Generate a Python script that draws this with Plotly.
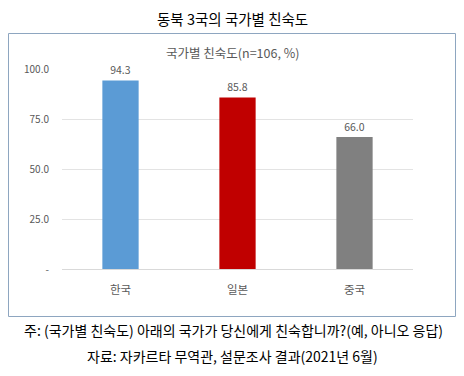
import plotly.graph_objects as go

categories = ["한국", "일본", "중국"]
values = [94.3, 85.8, 66.0]
bar_colors = ["#5b9bd5", "#c00000", "#808080"]
tick_vals = [0, 25, 50, 75, 100]
tick_text = ["-", "25.0", "50.0", "75.0", "100.0"]

title_main = "동북 3국의 국가별 친숙도"
title_sub = "국가별 친숙도(n=106, %)"
note1 = "주: (국가별 친숙도) 아래의 국가가 당신에게 친숙합니까?(예, 아니오 응답)"
note2 = "자료: 자카르타 무역관, 설문조사 결과(2021년 6월)"

W, H = 464, 376
L, R, T, B = 62, 413, 69, 269
pw, ph = R - L, B - T

def px(x):
    return (x - L) / pw

def py(y):
    return (B - y) / ph

FONT = "Noto Sans CJK KR"

fig = go.Figure(go.Bar(
    x=categories, y=values,
    marker=dict(color=bar_colors, line=dict(width=0)),
    width=0.31,
    text=[f"{v:.1f}" for v in values],
    textposition="outside",
    textfont=dict(size=10.5, color="#595959", family=FONT),
    cliponaxis=False,
    hoverinfo="skip",
))

fig.update_layout(
    width=W, height=H,
    margin=dict(l=L, r=W - R, t=T, b=H - B),
    paper_bgcolor="white", plot_bgcolor="white",
    showlegend=False,
    font=dict(family=FONT),
    xaxis=dict(showgrid=False, showline=True, linecolor="#d9d9d9", linewidth=1,
               ticks="", tickfont=dict(size=11.5, color="#595959"),
               ticklabelstandoff=10, fixedrange=True),
    yaxis=dict(range=[0, 100], tickvals=tick_vals, ticktext=tick_text,
               showgrid=True, gridcolor="#e3e3e3", gridwidth=1, zeroline=False,
               showline=False, ticks="", ticklabelstandoff=12, fixedrange=True,
               tickfont=dict(size=10, color="#595959")),
    shapes=[dict(type="rect", xref="paper", yref="paper",
                 x0=px(8.5), x1=px(455.5), y0=py(316.5), y1=py(33.5),
                 line=dict(color="#8ea6c0", width=1), fillcolor="rgba(0,0,0,0)",
                 layer="below")],
    annotations=[
        dict(text=title_main, xref="paper", yref="paper", x=px(232), y=py(18),
             showarrow=False, font=dict(size=14.5, color="#000000"),
             xanchor="center", yanchor="middle"),
        dict(text=title_sub, xref="paper", yref="paper", x=px(232), y=py(53),
             showarrow=False, font=dict(size=12.5, color="#595959"),
             xanchor="center", yanchor="middle"),
        dict(text=note1, xref="paper", yref="paper", x=px(233), y=py(330),
             showarrow=False, font=dict(size=14, color="#000000"),
             xanchor="center", yanchor="middle"),
        dict(text=note2, xref="paper", yref="paper", x=px(232), y=py(356),
             showarrow=False, font=dict(size=14, color="#000000"),
             xanchor="center", yanchor="middle"),
    ],
)

fig.write_html("out.html",
               config={"displayModeBar": False, "staticPlot": True},
               post_script="document.body.style.margin='0';document.body.style.overflow='hidden';")
